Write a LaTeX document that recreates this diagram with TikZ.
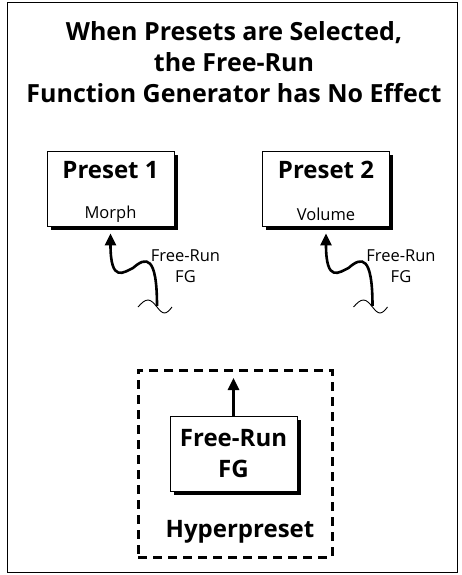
\documentclass[tikz,border=0pt]{standalone}
\usepackage{fontspec}
\setmainfont{Open Sans}
\usetikzlibrary{arrows.meta,shadows,positioning}

\begin{document}
\begin{tikzpicture}[x=1pt,y=-1pt,
    caixa/.style={draw,fill=white,line width=0.8pt,
      minimum width=127pt,minimum height=75pt,
      drop shadow={shadow xshift=3.5pt,shadow yshift=-3.5pt,opacity=1,fill=black}},
    grande/.style={font=\fontsize{24}{31.5}\selectfont\bfseries,align=center},
    pequeno/.style={font=\fontsize{16.5}{21}\selectfont,align=center},
    seta/.style={line width=2.6pt,-{Triangle[length=12pt,width=11pt]}}]
  \useasboundingbox (0,0) rectangle (462,575);
  % Moldura
  \node[draw,fill=white,line width=0.8pt,minimum width=450pt,minimum height=570pt,
    drop shadow={shadow xshift=1.2pt,shadow yshift=-1.2pt,opacity=1,fill=black}]
    (moldura) at (232,287) {};
  \node[grande,font=\fontsize{25}{31}\selectfont\bfseries] (titulo) at (234,62)
    {When Presets are Selected,\\the Free-Run\\Function Generator has No Effect};
  % Presets
  \foreach \n/\x/\sub in {1/110.5/Morph,2/326/Volume}{
    \node[caixa] (p\n) at (\x,188.5) {};
    \node[grande] (p\n t) at (\x,170) {Preset \n};
    \node[pequeno] (p\n s) at (\x,214) {\sub};
    \coordinate (fg\n) at (\x+46.5,306);
    \draw[seta] (fg\n) .. controls (\x+46.5,256) and (\x+36,256) .. (\x+22.5,268)
      .. controls (\x+13.5,272) and (\x,284) .. ([yshift=-7pt]p\n.south);
    \draw[line width=0.9pt] (\x+27.5,307) sin (\x+37.5,300) cos (\x+46.5,307)
      sin (\x+54,313) cos (\x+61.5,307);
    \node[pequeno] (fg\n t) at (\x+75,266.5) {Free-Run\\FG};
  }
  % Hyperpreset
  \node[draw,line width=3pt,dash pattern=on 9pt off 6pt,
    minimum width=194pt,minimum height=187pt] (hyper) at (235,463.5) {};
  \node[caixa,grande] (fg) at (233.5,453.5) {Free-Run\\FG};
  \coordinate (topo) at (fg.north |- 0,378);
  \draw[seta] (fg.north) -- (topo);
  \node[grande] (hyper t) at (240,532) {Hyperpreset};
\end{tikzpicture}
\end{document}
